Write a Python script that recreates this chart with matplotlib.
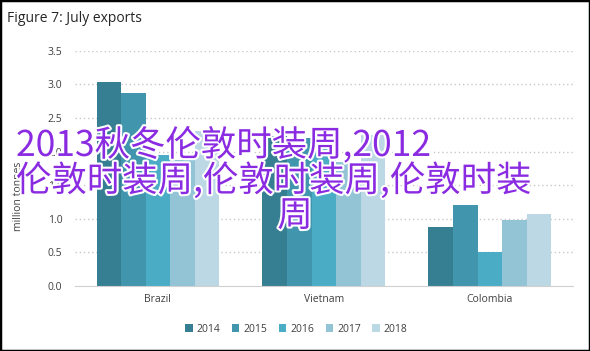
import numpy as np
import matplotlib
matplotlib.use('Agg')
import matplotlib.pyplot as plt
import matplotlib.patheffects as pe
from matplotlib.patches import Rectangle

plt.rcParams['font.family'] = ['Open Sans', 'DejaVu Sans']

countries = ['Brazil', 'Vietnam', 'Colombia']
years = ['2014', '2015', '2016', '2017', '2018']
exports = {
    '2014': [3.03, 2.24, 0.88],
    '2015': [2.88, 2.21, 1.20],
    '2016': [1.95, 2.20, 0.50],
    '2017': [1.88, 1.85, 0.99],
    '2018': [2.31, 2.25, 1.07],
}
colors = ['#367e91', '#4196ae', '#4bacc6', '#93c4d5', '#bcd8e4']
overlay_lines = ['2013秋冬伦敦时装周,2012', '伦敦时装周,伦敦时装周,伦敦时装', '周']

fig = plt.figure(figsize=(5.9, 3.51), dpi=100)
ax = fig.add_axes([0.127, 0.185, 0.844, 0.67])

x = np.arange(len(countries))
bw = 0.148
for j, yr in enumerate(years):
    ax.bar(x + (j - 2) * bw, exports[yr], bw, color=colors[j], label=yr,
           zorder=2, linewidth=0)

ax.set_xlim(-0.5, 2.5)
ax.set_ylim(0, 3.5)
ax.set_yticks(np.arange(0, 3.51, 0.5))
ax.set_yticklabels(['%.1f' % v for v in np.arange(0, 3.51, 0.5)])
ax.set_xticks(x)
ax.set_xticklabels(countries)
ax.tick_params(axis='both', length=0, labelsize=7.5, labelcolor='#404040')
ax.tick_params(axis='y', pad=9)
ax.tick_params(axis='x', pad=6)
for v in np.arange(0.5, 3.51, 0.5):
    ax.axhline(v, color='#c8c8c8', lw=1, ls=(0, (1, 2)), zorder=1)
for s in ['top', 'right', 'left']:
    ax.spines[s].set_visible(False)
ax.spines['bottom'].set_color('#d0d0d0')

fig.text(0.012, 0.948, 'Figure 7: July exports', fontsize=10, color='#262626',
         va='center', ha='left')
fig.text(0.031, 0.44, 'million tonnes', rotation=90, fontsize=7.5,
         color='#404040', va='center', ha='center')

leg = ax.legend(loc='center', bbox_to_anchor=(0.445, -0.183), ncol=5,
                frameon=False, fontsize=7.5, handlelength=0.7, handleheight=0.7,
                handletextpad=0.4, columnspacing=1.1)
for t in leg.get_texts():
    t.set_color('#404040')

stroke = [pe.withStroke(linewidth=3, foreground='white')]
ypos = [0.585, 0.484, 0.384]
for k, line in enumerate(overlay_lines):
    if k < 2:
        fig.text(16 / 590, ypos[k], line, fontsize=25.5, color='#8a2be2',
                 ha='left', va='center', path_effects=stroke,
                 fontweight='medium',
                 family=['Noto Sans CJK SC', 'DejaVu Sans'])
    else:
        fig.text(295 / 590, ypos[k], line, fontsize=25.5, color='#8a2be2',
                 ha='center', va='center', path_effects=stroke,
                 fontweight='medium',
                 family=['Noto Sans CJK SC', 'DejaVu Sans'])

fig.patches.append(Rectangle((0, 0), 1, 1, transform=fig.transFigure,
                             fill=False, edgecolor='black', lw=2.5))

fig.savefig('out.png', dpi=100)
